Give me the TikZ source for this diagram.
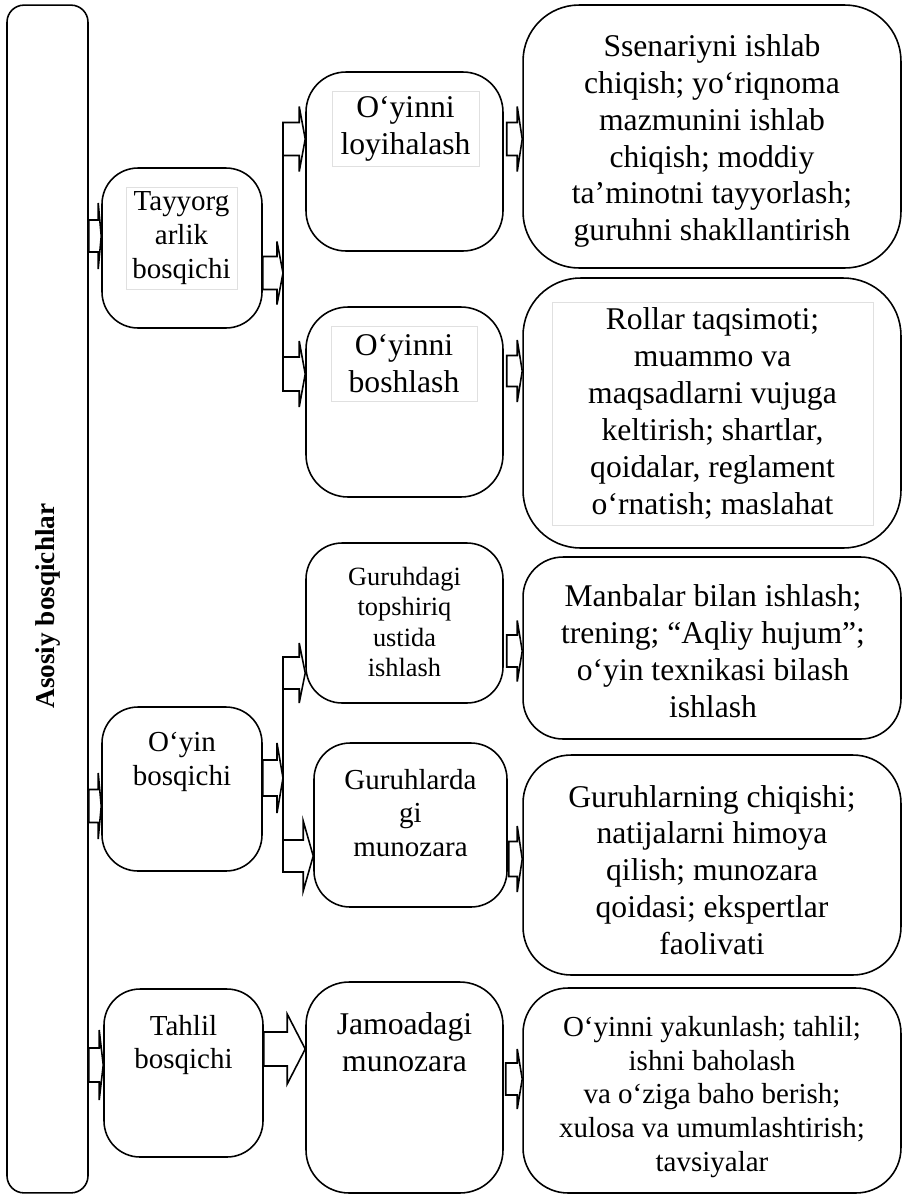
\documentclass[tikz,border=0pt]{standalone}
\usepackage{fontspec}
\setmainfont{Liberation Serif}
\usetikzlibrary{calc}

\tikzset{
    bshaft/.store in=\bshaft, bhead/.store in=\bhead, blen/.store in=\blen,
    bshaft=16, bhead=33, blen=4
}

\begin{document}
\begin{tikzpicture}[
    x=0.02cm, y=-0.02cm,
    box/.style={rectangle, draw, line width=0.9pt, rounded corners=#1, inner sep=0pt},
    txt/.style={align=center, inner sep=0pt},
    fbig/.style={font=\fontsize{18}{21}\selectfont},
    fmid/.style={font=\fontsize{16.5}{19.3}\selectfont},
    fsmall/.style={font=\fontsize{15}{17.2}\selectfont},
    tframe/.style={draw=black!12, line width=0.5pt},
    blk/.style={draw, line width=0.9pt, fill=white,
        to path={let \p1=(\tikztostart), \p2=(\tikztotarget) in
            (\x1,\y1+\bshaft*0.569pt) -- (\x2-\blen*0.569pt,\y1+\bshaft*0.569pt)
            -- (\x2-\blen*0.569pt,\y1+\bhead*0.569pt) -- (\x2,\y1)
            -- (\x2-\blen*0.569pt,\y1-\bhead*0.569pt) -- (\x2-\blen*0.569pt,\y1-\bshaft*0.569pt)
            -- (\x1,\y1-\bshaft*0.569pt) -- cycle}},
    line/.style={draw, line width=0.9pt}
]
\useasboundingbox (0,0) rectangle (904,1198);

% Main column
\node[box=0.34cm, minimum width=1.62cm, minimum height=23.76cm] (main) at (47.5,599) {};
\node[rotate=90, inner sep=0pt, font=\fontsize{15.5}{18}\selectfont\bfseries] (main-t) at (48,606) {Asosiy bosqichlar};

% Stages
\node[box=0.72cm, minimum width=3.2cm, minimum height=3.2cm] (tay) at (182,248) {};
\node[txt, fmid, tframe, minimum width=2.22cm, minimum height=2.04cm] (tay-t) at (181.5,238) {Tayyorg\\arlik\\bosqichi};
\node[box=0.72cm, minimum width=3.2cm, minimum height=3.28cm] (oyin) at (182,789) {};
\node[txt, fmid] (oyin-t) at (182,762) {O‘yin\\bosqichi};
\node[box=0.72cm, minimum width=3.18cm, minimum height=3.36cm] (tahlil) at (183.5,1073) {};
\node[txt, fmid] (tahlil-t) at (183.5,1045) {Tahlil\\bosqichi};

% Steps
\node[box=0.8cm, minimum width=3.94cm, minimum height=3.58cm] (loy) at (404.5,161.5) {};
\node[txt, fbig, tframe, minimum width=2.94cm, minimum height=1.5cm] (loy-t) at (405.5,128.5) {O‘yinni\\loyihalash};
\node[box=0.84cm, minimum width=3.94cm, minimum height=3.8cm] (bosh) at (404.5,402) {};
\node[txt, fbig, tframe, minimum width=2.92cm, minimum height=1.5cm] (bosh-t) at (404,363.5) {O‘yinni\\boshlash};
\node[box=0.72cm, minimum width=3.94cm, minimum height=3.2cm] (grd) at (404.5,623) {};
\node[txt, fsmall] (grd-t) at (404.5,622) {Guruhdagi\\topshiriq\\ustida\\ishlash};
\node[box=0.72cm, minimum width=3.86cm, minimum height=3.28cm] (grl) at (410.5,825) {};
\node[txt, fmid] (grl-t) at (410.5,813) {Guruhlarda\\gi\\munozara};
\node[box=0.86cm, minimum width=3.94cm, minimum height=4.22cm] (jam) at (404.5,1087.5) {};
\node[txt, fbig] (jam-t) at (404.5,1042) {Jamoadagi\\munozara};

% Contents
\node[box=1.12cm, minimum width=7.56cm, minimum height=5.26cm] (ssen) at (712,136.5) {};
\node[txt, fbig] (ssen-t) at (712,141) {Ssenariyni ishlab\\chiqish; yo‘riqnoma\\mazmunini ishlab\\chiqish; moddiy\\ta’minotni tayyorlash;\\guruhni shakllantirish};
\node[box=1.15cm, minimum width=7.56cm, minimum height=5.4cm] (rol) at (712,413) {};
\node[txt, fbig, tframe, minimum width=6.42cm, minimum height=4.46cm] (rol-t) at (712.5,413.5) {Rollar taqsimoti;\\muammo va\\maqsadlarni vujuga\\keltirish; shartlar,\\qoidalar, reglament\\o‘rnatish; maslahat};
\node[box=0.8cm, minimum width=7.56cm, minimum height=3.64cm] (man) at (712,648) {};
\node[txt, fbig] (man-t) at (713,651) {Manbalar bilan ishlash;\\trening; “Aqliy hujum”;\\o‘yin texnikasi bilash\\ishlash};
\node[box=0.96cm, minimum width=7.56cm, minimum height=4.4cm] (grn) at (712,865) {};
\node[txt, fbig] (grn-t) at (712,870) {Guruhlarning chiqishi;\\natijalarni himoya\\qilish; munozara\\qoidasi; ekspertlar\\faolivati};
\node[box=0.9cm, minimum width=7.56cm, minimum height=4.1cm] (yak) at (712,1090.5) {};
\node[txt, fmid] (yak-t) at (712,1097) {O‘yinni yakunlash; tahlil;\\ishni baholash\\va o‘ziga baho berish;\\xulosa va umumlashtirish;\\tavsiyalar};

% Branch points
\coordinate (br1t) at (283,122);
\coordinate (br1) at (283,391);
\coordinate (br2t) at (283,657);
\coordinate (br2) at (283,872);

% Arrows
\draw[blk, bshaft=16, bhead=33, blen=3] (main.east |- 0,236) to (tay.west |- 0,236);
\draw[blk, bshaft=16.5, bhead=33, blen=3] (main.east |- 0,806) to (oyin.west |- 0,806);
\draw[blk, bshaft=17, bhead=35, blen=4] (main.east |- 0,1065) to (tahlil.west |- 0,1065);

\draw[blk, bshaft=16.5, bhead=31.5, blen=6] (tay.east |- 0,273) to (br1 |- 0,273);
\draw[line] (br1t) -- (br1);
\draw[blk, bshaft=16.5, bhead=32.5, blen=6] (br1 |- 0,139) to (loy.west |- 0,139);
\draw[blk, bshaft=17, bhead=33, blen=6] (br1 |- 0,374) to (bosh.west |- 0,374);

\draw[blk, bshaft=18, bhead=35, blen=6] (oyin.east |- 0,778) to (br2 |- 0,778);
\draw[line] (br2t) -- (br2);
\draw[blk, bshaft=16, bhead=30, blen=6] (br2 |- 0,673) to (grd.west |- 0,673);
\draw[blk, bshaft=16, bhead=35, blen=10] (br2 |- 0,856) to (grl.west |- 0,856);

\draw[blk, bshaft=17, bhead=35, blen=18] (tahlil.east |- 0,1049) to (jam.west |- 0,1049);

\draw[blk, bshaft=16.5, bhead=32.5, blen=5] ($(loy.east |- 0,139)+(3,0)$) to (ssen.west |- 0,139);
\draw[blk, bshaft=15.5, bhead=31, blen=5] ($(bosh.east |- 0,371)+(3,0)$) to (rol.west |- 0,371);
\draw[blk, bshaft=16, bhead=30.5, blen=5] ($(grd.east |- 0,651)+(3,0)$) to (man.west |- 0,651);
\draw[blk, bshaft=17.5, bhead=33, blen=5] ($(grl.east |- 0,859)+(1,0)$) to (grn.west |- 0,859);
\draw[blk, bshaft=16, bhead=30, blen=5] ($(jam.east |- 0,1079)+(2,0)$) to (yak.west |- 0,1079);
\end{tikzpicture}
\end{document}
